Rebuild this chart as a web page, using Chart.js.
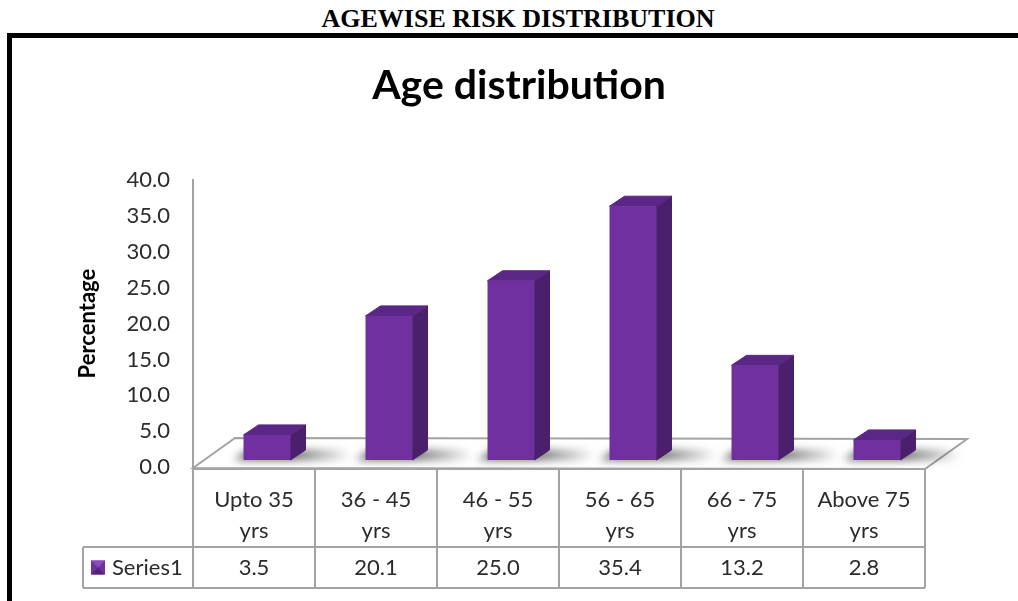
<!DOCTYPE html>
<html>
<head>
<meta charset="utf-8">
<title>Agewise risk distribution</title>
<script src="https://cdn.jsdelivr.net/npm/chart.js@4.4.1/dist/chart.umd.min.js"></script>
<style>
  html, body { margin: 0; padding: 0; background: #fff; width: 1018px; height: 601px; overflow: hidden; }
  #heading {
    position: absolute; left: 0; top: 4px; width: 1036px;
    text-align: center; line-height: 30px;
    font: bold 26px "Liberation Serif", "Times New Roman", serif; color: #000;
  }
  #frame {
    position: absolute; left: 7px; top: 33px; width: 1100px; height: 700px;
    border-top: 5px solid #000; border-left: 5px solid #000;
  }
  #wrap { position: absolute; left: 12px; top: 38px; }
  canvas { display: block; }
</style>
</head>
<body>
<div id="heading">AGEWISE RISK DISTRIBUTION</div>
<div id="frame"></div>
<div id="wrap"><canvas id="chart" width="1006" height="563"></canvas></div>

<script>
// ---- data ----
const chartTitle = "Age distribution";
const axisTitle = "Percentage";
const seriesName = "Series1";
const categories = [
  ["Upto 35", "yrs"],
  ["36 - 45", "yrs"],
  ["46 - 55", "yrs"],
  ["56 - 65", "yrs"],
  ["66 - 75", "yrs"],
  ["Above 75", "yrs"]
];
const percentages = [3.5, 20.1, 25.0, 35.4, 13.2, 2.8];
const axisMin = 0;
const axisMax = 40;
const axisStep = 5;

// ---- styling ----
const FONT = "Lato";
const TEXT = "#2b2b2b";
const LINE = "#a3a3a3";
const FRONT = "#7030a0";
const SIDE = "#4a1f6c";
const TOP = "#5b2787";
const BAR_SHIFT_X = 13, BAR_SHIFT_Y = -7;   // bars stand a little behind the front plane
const BAR_DX = 15, BAR_DY = -10;            // depth of each column
const FLOOR_DX = 42, FLOOR_DY = -30;        // depth of the floor
const ROW1 = 80, ROW2 = 121;                // data table row bottoms below the axis
const LEGEND_W = 110;

const cube = {
  id: "cube",
  beforeDatasetsDraw(chart) {
    const { ctx, chartArea: { left: L, right: R, bottom: B } } = chart;
    ctx.save();
    ctx.beginPath();
    ctx.moveTo(L, B + 1);
    ctx.lineTo(L + FLOOR_DX, B + 1 + FLOOR_DY);
    ctx.lineTo(R + FLOOR_DX, B + 2 + FLOOR_DY);
    ctx.lineTo(R, B + 2);
    ctx.closePath();
    ctx.fillStyle = "#fff";
    ctx.fill();
    ctx.strokeStyle = LINE;
    ctx.lineWidth = 2;
    ctx.stroke();
    ctx.restore();
  },
  afterDatasetsDraw(chart) {
    const { ctx } = chart;
    const meta = chart.getDatasetMeta(0);
    meta.data.forEach((el) => {
      const { x, y, base, width } = el.getProps(["x", "y", "base", "width"], true);
      const l = x - width / 2 + BAR_SHIFT_X, r = l + width;
      const t = y + BAR_SHIFT_Y, b = base + BAR_SHIFT_Y;

      // soft shadow cast onto the floor
      ctx.save();
      ctx.filter = "blur(4px)";
      const g = ctx.createLinearGradient(r, 0, r + BAR_DX + 45, 0);
      g.addColorStop(0, "rgba(40,40,40,0.75)");
      g.addColorStop(1, "rgba(40,40,40,0)");
      ctx.fillStyle = g;
      ctx.beginPath();
      ctx.moveTo(l - 10, b);
      ctx.lineTo(r + BAR_DX + 45, b);
      ctx.lineTo(r + BAR_DX + 50, b - 10);
      ctx.lineTo(l + 5, b - 10);
      ctx.closePath();
      ctx.fill();
      ctx.restore();

      ctx.save();
      ctx.lineJoin = "round";
      // side face
      ctx.beginPath();
      ctx.moveTo(r, b);
      ctx.lineTo(r + BAR_DX, b + BAR_DY);
      ctx.lineTo(r + BAR_DX, t + BAR_DY);
      ctx.lineTo(r, t);
      ctx.closePath();
      ctx.fillStyle = SIDE;
      ctx.strokeStyle = SIDE;
      ctx.lineWidth = 1;
      ctx.fill();
      ctx.stroke();
      // top face
      ctx.beginPath();
      ctx.moveTo(l, t);
      ctx.lineTo(l + BAR_DX, t + BAR_DY);
      ctx.lineTo(r + BAR_DX, t + BAR_DY);
      ctx.lineTo(r, t);
      ctx.closePath();
      ctx.fillStyle = TOP;
      ctx.strokeStyle = TOP;
      ctx.fill();
      ctx.stroke();
      // front face
      ctx.fillStyle = FRONT;
      ctx.fillRect(l, t, width, b - t);
      ctx.restore();
    });
  },
  afterDraw(chart) {
    const { ctx, chartArea: { left: L, right: R, bottom: B } } = chart;
    const xs = chart.scales.x;
    const n = chart.data.labels.length;
    const colW = (R - L) / n;
    const y0 = B + 2, y1 = B + ROW1, y2 = B + ROW2;
    const lx = L - LEGEND_W;

    ctx.save();
    ctx.strokeStyle = LINE;
    ctx.lineWidth = 2;
    ctx.beginPath();
    ctx.moveTo(L, y0); ctx.lineTo(R, y0);
    ctx.moveTo(lx, y1); ctx.lineTo(R, y1);
    ctx.moveTo(lx, y2); ctx.lineTo(R, y2);
    for (let i = 0; i <= n; i++) {
      const gx = L + i * colW;
      ctx.moveTo(gx, y0); ctx.lineTo(gx, y2);
    }
    ctx.moveTo(lx, y1); ctx.lineTo(lx, y2);
    ctx.stroke();

    // values row
    const rowMid = (y1 + y2) / 2;
    ctx.fillStyle = TEXT;
    ctx.font = `22px ${FONT}`;
    ctx.textAlign = "center";
    ctx.textBaseline = "middle";
    chart.data.datasets[0].data.forEach((v, i) => {
      ctx.fillText(v.toFixed(1), xs.getPixelForValue(i), rowMid);
    });

    // legend key
    const kx = L - 102, ky = rowMid - 7, ks = 14;
    ctx.fillStyle = FRONT;
    ctx.fillRect(kx, ky, ks, ks);
    ctx.fillStyle = "#8a4cbc";
    ctx.beginPath();
    ctx.moveTo(kx, ky); ctx.lineTo(kx + ks, ky); ctx.lineTo(kx + ks / 2, ky + ks / 2);
    ctx.closePath(); ctx.fill();
    ctx.fillStyle = "#55237e";
    ctx.beginPath();
    ctx.moveTo(kx, ky + ks); ctx.lineTo(kx + ks, ky + ks); ctx.lineTo(kx + ks / 2, ky + ks / 2);
    ctx.closePath(); ctx.fill();
    ctx.fillStyle = TEXT;
    ctx.textAlign = "left";
    ctx.fillText(chart.data.datasets[0].label, L - 81, rowMid);
    ctx.restore();
  }
};

new Chart(document.getElementById("chart"), {
  type: "bar",
  data: {
    labels: categories,
    datasets: [{
      label: seriesName,
      data: percentages,
      backgroundColor: "rgba(0,0,0,0)",
      borderWidth: 0,
      barPercentage: 0.385,
      categoryPercentage: 1
    }]
  },
  options: {
    responsive: false,
    animation: false,
    devicePixelRatio: 1,
    layout: { padding: { left: 8, right: 0, top: 23, bottom: 0 } },
    plugins: {
      legend: { display: false },
      tooltip: { enabled: false },
      title: {
        display: true,
        text: chartTitle,
        color: "#000",
        font: { family: FONT, size: 41, weight: "bold", lineHeight: 1.2 },
        padding: { top: 0, bottom: 70 }
      }
    },
    scales: {
      x: {
        type: "category",
        grid: { display: false, drawTicks: false },
        border: { display: false },
        ticks: {
          color: TEXT,
          font: { family: FONT, size: 22, lineHeight: 1.41 },
          padding: 17.5,
          maxRotation: 0,
          autoSkip: false
        },
        afterFit(s) { s.height = 134; }
      },
      y: {
        min: axisMin,
        max: axisMax,
        grid: { display: false, drawTicks: false },
        border: { display: true, color: LINE, width: 2 },
        ticks: {
          stepSize: axisStep,
          padding: 23,
          color: TEXT,
          font: { family: FONT, size: 22 },
          callback: (v) => Number(v).toFixed(1)
        },
        title: {
          display: true,
          text: axisTitle,
          color: "#000",
          font: { family: FONT, size: 22, weight: "bold", lineHeight: 1.2 },
          padding: { top: 55, bottom: 0 }
        },
        afterFit(s) { s.width = 173; }
      },
      depth: {
        type: "linear",
        position: "right",
        grid: { display: false, drawTicks: false },
        border: { display: false },
        ticks: { display: false },
        afterFit(s) { s.width = 93; }
      }
    }
  },
  plugins: [cube]
});
</script>
</body>
</html>
